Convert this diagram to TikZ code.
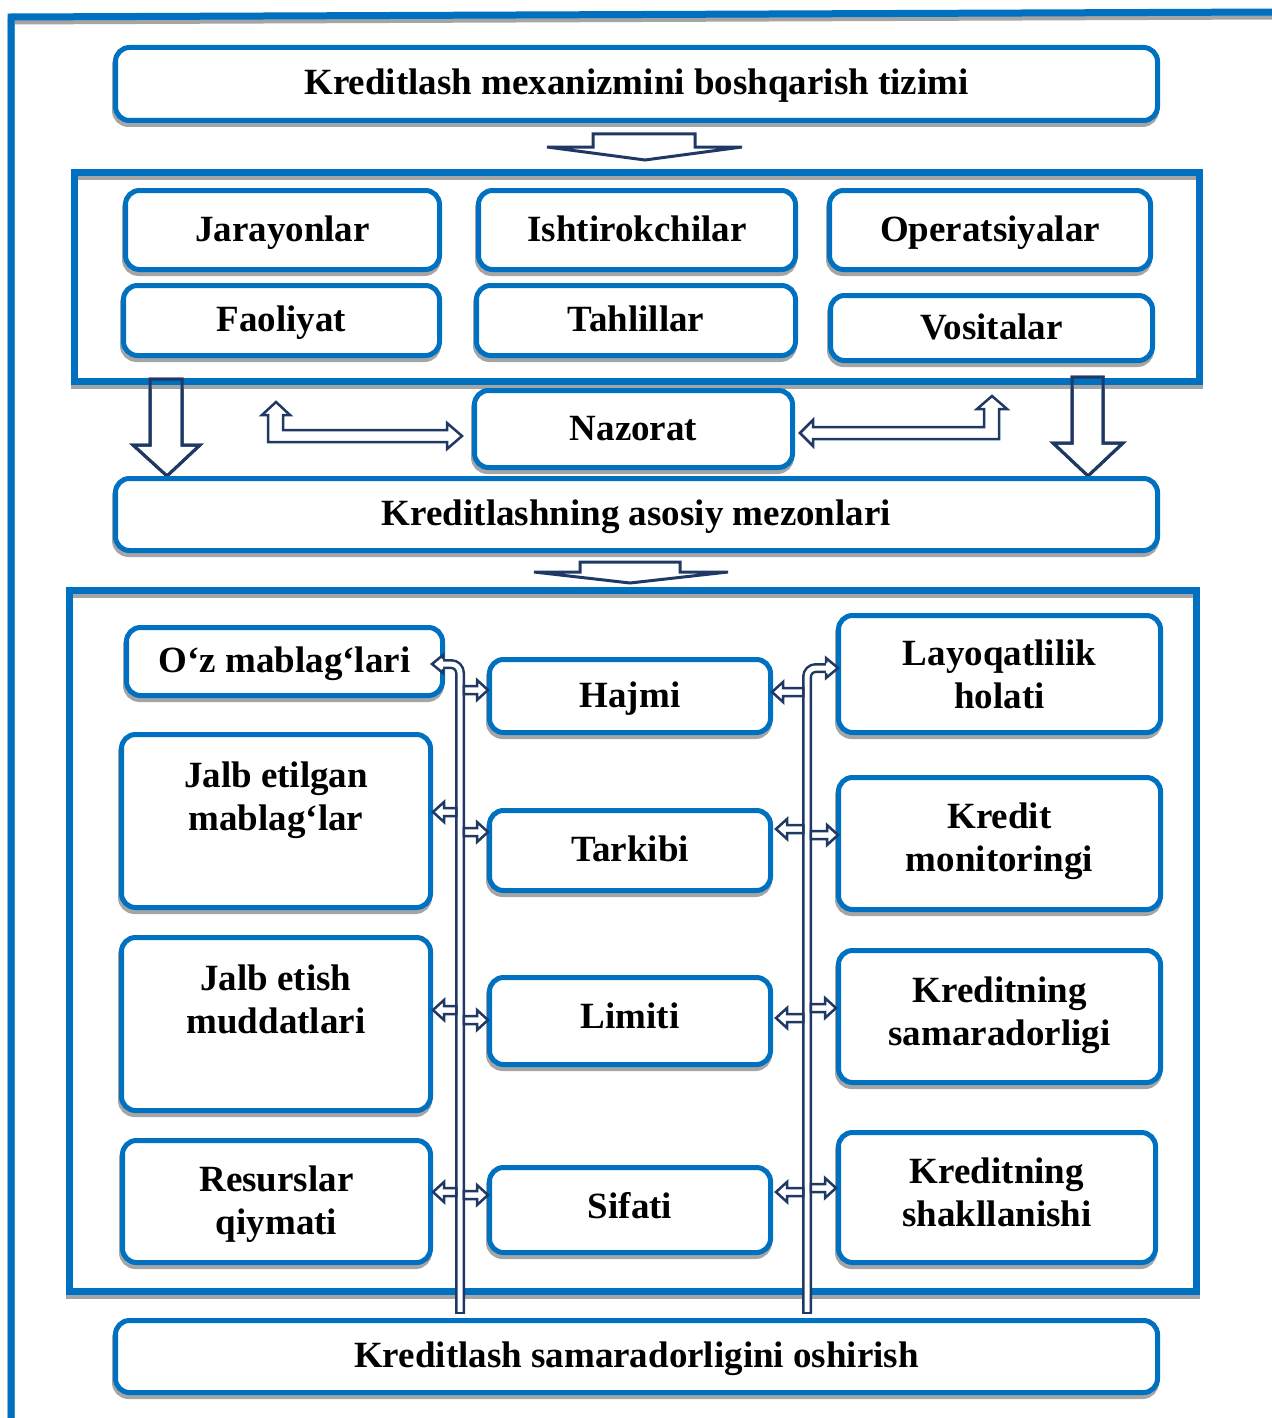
\documentclass[tikz,border=0pt]{standalone}
\usepackage{fontspec}
\setmainfont{Liberation Serif}
\usetikzlibrary{calc}
\definecolor{boxblue}{RGB}{0,112,192}
\definecolor{navy}{RGB}{32,56,100}
\definecolor{shgray}{RGB}{165,165,165}
\tikzset{
  box/.style={draw=boxblue, line width=5pt, rounded corners=14pt, fill=white, inner sep=0pt,
    font=\fontsize{37}{43}\selectfont\bfseries, align=center, text height=25pt, text depth=3pt,
    preaction={draw=shgray, line width=5pt, transform canvas={shift={(-1pt,-4pt)}}}},
  txt/.style={inner sep=0pt, font=\fontsize{37}{43}\selectfont\bfseries, align=center},
  onetxt/.style={txt, text height=25pt, text depth=3pt},
  frame/.style={draw=boxblue, line width=7pt,
    preaction={draw=shgray, line width=7pt, transform canvas={shift={(0pt,-4pt)}}}},
  blk/.style={draw=navy, line width=3pt, fill=white, line join=miter},
  sarrow/.style={draw=navy, line width=2.5pt, fill=white, line join=miter},
  pipe/.style={draw=navy, line width=2.5pt, double=white, double distance=5pt},
}
\newcommand\bx[6]{\node[box, minimum width=#4pt, minimum height=#5pt] (#1) at (#2,#3) {#6};}
\newcommand\arR[3]{\filldraw[sarrow] (#1,{#3-4}) -- ({#2-11},{#3-4}) -- ({#2-11},{#3-10}) -- (#2,#3) -- ({#2-11},{#3+10}) -- ({#2-11},{#3+4}) -- (#1,{#3+4}) -- cycle;}
\newcommand\arL[3]{\filldraw[sarrow] (#1,{#3-4}) -- ({#2+11},{#3-4}) -- ({#2+11},{#3-10}) -- (#2,#3) -- ({#2+11},{#3+10}) -- ({#2+11},{#3+4}) -- (#1,{#3+4}) -- cycle;}
\begin{document}
\begin{tikzpicture}[x=1pt,y=-1pt]
\useasboundingbox (0,0) rectangle (1271,1418);
% outer frame
\draw[frame] (11,1420) -- (11,17) -- (1275,12);
% title
\bx{title}{636.5}{84}{1042}{73}{Kreditlash mexanizmini boshqarish tizimi}
% arrow 1
\filldraw[blk] (593,134) -- (695,134) -- (695,147) -- (742,147) -- (645,160) -- (547,147) -- (593,147) -- cycle;
% big down arrows (fill first)
\filldraw[blk] (150,379) -- (182,379) -- (182,445) -- (200,445) -- (167,476) -- (133,445) -- (150,445) -- cycle;
\filldraw[blk] (1072,377) -- (1103,377) -- (1103,443) -- (1123,443) -- (1088,476) -- (1053,443) -- (1072,443) -- cycle;
% frame 1
\draw[frame] (74,172) rectangle (1199,381);
\draw[blk, fill=none] (150,379) -- (182,379) -- (182,445) -- (200,445) -- (167,476) -- (133,445) -- (150,445) -- cycle;
\draw[blk, fill=none] (1072,377) -- (1103,377) -- (1103,443) -- (1123,443) -- (1088,476) -- (1053,443) -- (1072,443) -- cycle;
\bx{jar}{282.5}{230}{314}{79}{Jarayonlar}
\bx{ish}{637}{230}{317}{79}{Ishtirokchilar}
\bx{ope}{990}{230}{321}{79}{Operatsiyalar}
\bx{fao}{281.5}{320.5}{316}{70}{Faoliyat}
\bx{tah}{636}{320.5}{319}{70}{Tahlillar}
\bx{vos}{991.5}{328}{322}{65}{Vositalar}
% nazorat
\bx{naz}{633.5}{429}{318}{77}{Nazorat}
% bent arrows
\filldraw[blk, line width=2.5pt] (268,442) -- (268,415) -- (262,415) -- (276,402) -- (290,415) -- (283,415) -- (283,430) -- (447,430) -- (447,423) -- (462,436) -- (447,449) -- (447,442) -- cycle;
\filldraw[blk, line width=2.5pt] (999,439) -- (999,409) -- (1007,409) -- (992,396) -- (977,409) -- (984,409) -- (984,427) -- (813,427) -- (813,420) -- (800,433) -- (813,446) -- (813,439) -- cycle;
% criteria
\bx{mez}{636.5}{514.5}{1042}{72}{Kreditlashning asosiy mezonlari}
% arrow 2
\filldraw[blk] (580,562) -- (680,562) -- (680,572) -- (728,572) -- (630,583) -- (534,572) -- (580,572) -- cycle;
% frame 2
\draw[frame] (69,590) rectangle (1196,1291);
% left column
\bx{oz}{284.5}{661.5}{316}{68}{O‘z mablag‘lari}
\bx{jalbA}{276}{821}{309}{173}{}
\node[txt] (jalbAt) at (276,800) {Jalb etilgan\\mablag‘lar};
\bx{jalbB}{276}{1024}{309}{173}{}
\node[txt] (jalbBt) at (276,999) {Jalb etish\\muddatlari};
\bx{res}{276.5}{1201.5}{308}{122}{}
\node[txt] (rest) at (276.5,1204.5) {Resurslar\\qiymati};
% middle column
\bx{haj}{630}{696}{281}{73}{Hajmi}
\bx{tar}{630}{850.5}{281}{80}{Tarkibi}
\bx{lim}{630}{1021}{281}{87}{}
\node[onetxt] (limt) at (630,1017) {Limiti};
\bx{sif}{630}{1210}{281}{85}{}
\node[onetxt] (sift) at (630,1207) {Sifati};
% right column
\bx{lay}{999.5}{674}{322}{117}{}
\node[txt] (layt) at (999.5,674) {Layoqatlilik\\holati};
\bx{mon}{999.5}{843.5}{322}{132}{}
\node[txt] (mont) at (999.5,841) {Kredit\\monitoringi};
\bx{sam}{999.5}{1016.5}{322}{132}{}
\node[txt] (samt) at (999.5,1015) {Kreditning\\samaradorligi};
\bx{shk}{997}{1197.5}{317}{130}{}
\node[txt] (shkt) at (997,1192) {Kreditning\\shakllanishi};
% bottom
\bx{bot}{636.5}{1356.5}{1042}{72}{Kreditlash samaradorligini oshirish}
% pipes
\coordinate (pL) at (460,1313);
\coordinate (pR) at (807,1313);
\draw[pipe, rounded corners=9pt] (pL) -- (460,664) -- (443,664);
\draw[navy, line width=2.5pt, line cap=rect] (456.25,1313) -- (463.75,1313);
\filldraw[sarrow] (443,659) -- (443,655) -- (432,664) -- (443,673) -- (443,669);
\draw[pipe, rounded corners=9pt] (pR) -- (807,668) -- (826,668);
\draw[navy, line width=2.5pt, line cap=rect] (803.25,1313) -- (810.75,1313);
\filldraw[sarrow] (826,663) -- (826,658) -- (838,668) -- (826,678) -- (826,673);
% small arrows left pipe
\arR{463.75}{488}{690}
\arL{456.25}{433}{812}
\arR{463.75}{488}{832}
\arL{456.25}{433}{1010}
\arR{463.75}{488}{1020}
\arL{456.25}{433}{1192}
\arR{463.75}{488}{1195}
% small arrows right pipe
\arL{803.25}{772}{692}
\arL{803.25}{776}{829}
\arR{810.75}{838}{835}
\arL{803.25}{776}{1018}
\arR{810.75}{836}{1008}
\arL{803.25}{776}{1192}
\arR{810.75}{836}{1188}
\end{tikzpicture}
\end{document}
